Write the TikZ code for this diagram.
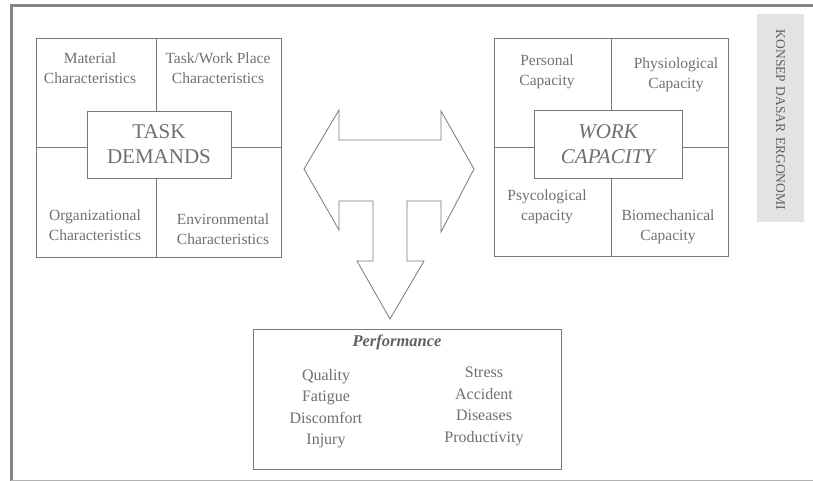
\documentclass[tikz,border=0pt]{standalone}
\usepackage{fontspec}
\setmainfont{Liberation Serif}
\usepackage{xcolor}
\usetikzlibrary{positioning,calc}

\definecolor{txtgray}{RGB}{112,110,114}
\definecolor{linegray}{RGB}{120,120,120}
\definecolor{pagegray}{RGB}{133,133,133}
\definecolor{barfill}{RGB}{226,227,229}

\begin{document}
\begin{tikzpicture}[
  x=1pt, y=-1pt,
  every node/.style={text=txtgray, font=\fontsize{15.5}{19.5}\selectfont},
  frame/.style={draw=linegray, line width=0.8pt},
  group/.style={frame, inner sep=0pt},
  core/.style={frame, fill=white, align=center, inner sep=0pt,
               font=\fontsize{21}{25}\selectfont},
  cell/.style={align=center, inner sep=0pt},
  item/.style={align=center, inner sep=0pt, font=\fontsize{16}{21.5}\selectfont},
]
  \useasboundingbox (0,0) rectangle (813,481);

  % page frame
  \draw[pagegray, line width=3pt] (11,481) -- (11,6) -- (813,6);
  \draw[black!30, line width=0.8pt] (11,480) -- (813,480);

  % task demands
  \node[group, minimum width=245, minimum height=219] (tdframe) at (158.5,147.5) {};
  \draw[frame] ($(tdframe.north)+(-2.5,0)$) -- ($(tdframe.south)+(-2.5,0)$);
  \draw[frame] (tdframe.west) -- (tdframe.east);
  \node[core, minimum width=144, minimum height=67] (td) at (159,144.5) {TASK\\DEMANDS};
  \node[cell] (matc) at (90,68)   {Material\\Characteristics};
  \node[cell] (tplc) at (218,68)  {Task/Work Place\\Characteristics};
  \node[cell] (orgc) at (95,225)  {Organizational\\Characteristics};
  \node[cell] (envc) at (223,229) {Environmental\\Characteristics};

  % work capacity
  \node[group, minimum width=234, minimum height=218] (wcframe) at (611,147) {};
  \draw[frame] (wcframe.north) -- (wcframe.south);
  \draw[frame] (wcframe.west) -- (wcframe.east);
  \node[core, minimum width=148, minimum height=68, font=\fontsize{21}{25}\selectfont\itshape]
    (wc) at (608,144) {WORK\\CAPACITY};
  \node[cell] (perc) at (547,72)  {Personal\\Capacity};
  \node[cell] (phyc) at (676,75)  {Physiological\\Capacity};
  \node[cell] (psyc) at (547,207) {Psycological\\capacity};
  \node[cell] (bioc) at (668,227) {Biomechanical\\Capacity};

  % three-way arrow
  \draw[frame, fill=white, line join=miter]
    (304,169) -- (339,110) -- (339,140) -- (441,140) -- (441,111)
    -- (474,169) -- (441,232) -- (441,201) -- (407,201) -- (407,261)
    -- (424,261) -- (390,319) -- (357,261) -- (373,261) -- (373,201)
    -- (339,201) -- (339,230) -- cycle;

  % performance
  \node[frame, fill=white, minimum width=308, minimum height=140, inner sep=0pt]
    (perf) at (407,399) {};
  \node[cell, font=\fontsize{16.5}{20}\selectfont\bfseries\itshape, text=black!62]
    (perft) at (397,342) {Performance};
  \node[item, anchor=north] (left) at (326,369)
    {Quality\\Fatigue\\Discomfort\\Injury};
  \node[item, anchor=north] (right) at (484,367)
    {Stress\\Accident\\Diseases\\Productivity};

  % side bar
  \node[fill=barfill, minimum width=47, minimum height=208, inner sep=0pt] (bar) at (780.5,118) {};
  \node[rotate=-90, font=\fontsize{13.5}{16}\selectfont, text=black!62] (bart) at (780.5,120)
    {KONSEP\hspace{4.5pt}DASAR\hspace{4.5pt}ERGONOMI};
\end{tikzpicture}
\end{document}
